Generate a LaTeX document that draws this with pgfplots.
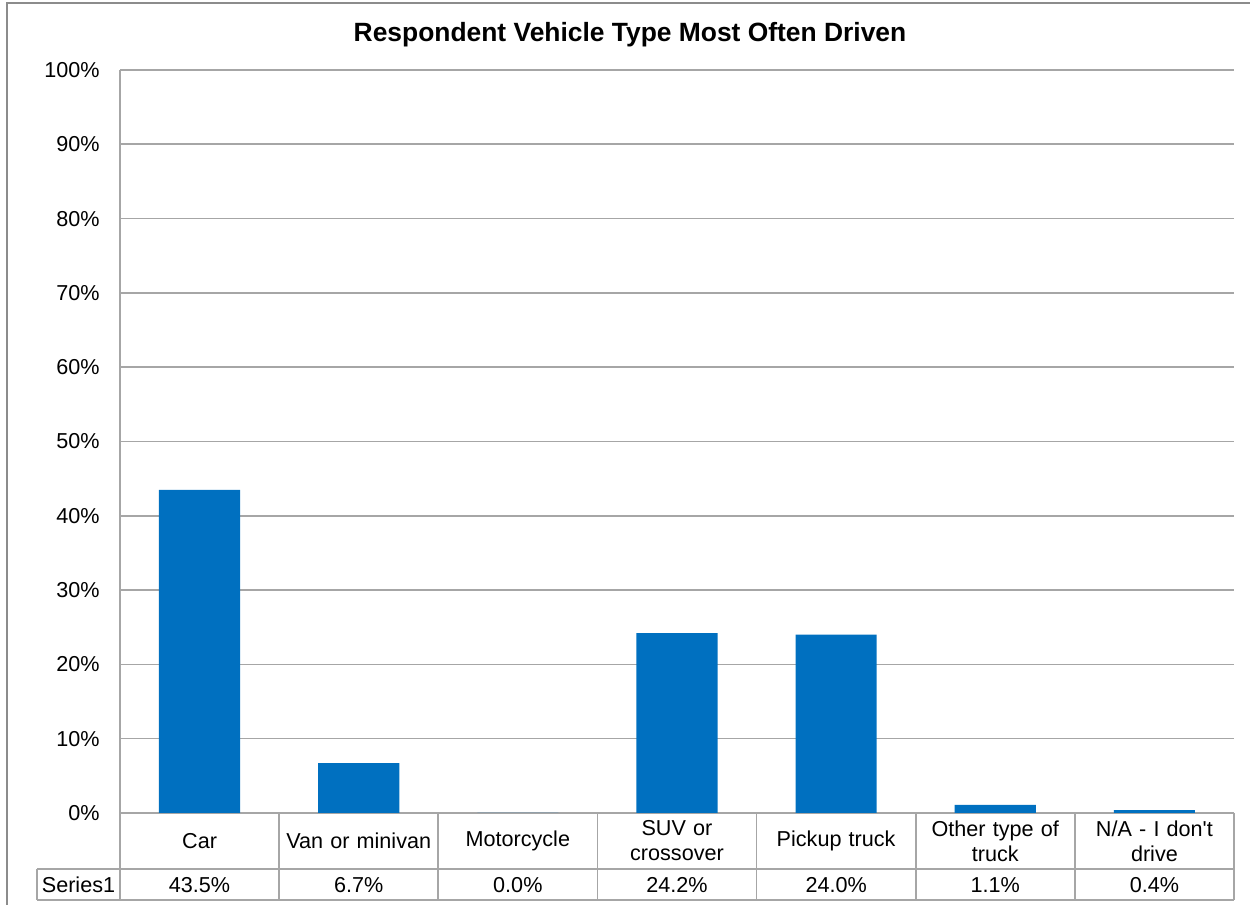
\documentclass[border=0pt]{standalone}
\usepackage{pgfplots}
\pgfplotsset{compat=1.18}
\usepackage{fontspec}
\setmainfont{Liberation Sans}
\definecolor{barblue}{HTML}{0070C0}
\definecolor{gridgray}{HTML}{A6A6A6}
\definecolor{framegray}{HTML}{8C8C8C}
\newcommand{\lbl}{\fontsize{10.8}{12.5}\selectfont}
\begin{document}
\begin{tikzpicture}
% page = 1250 x 905 px at 0.5pt per px, axis box origin at (120px, 813px)
\path[use as bounding box] (-60pt,-46pt) rectangle (565pt,406.5pt);
\draw[framegray, line width=0.8pt] (-56.5pt,-60pt) -- (-56.5pt,405pt) -- (580pt,405pt);
\begin{axis}[
    at={(0,0)}, anchor=south west,
    scale only axis, width=557pt, height=371.5pt,
    xmin=-0.5, xmax=6.5, ymin=0, ymax=100,
    ytick={0,10,...,100},
    yticklabel={\pgfmathprintnumber{\tick}\%},
    xtick={0,...,6},
    xticklabels={Car, Van or minivan, Motorcycle, SUV or\\crossover, Pickup truck, Other type of\\truck, N/A - I don\textquotesingle t\\drive},
    /pgf/number format/assume math mode=true,
    tick label style={font=\lbl},
    yticklabel style={anchor=east, inner sep=0pt, xshift=-10pt},
    xticklabel style={anchor=center, align=center, text width=76pt, inner sep=0pt, yshift=-14pt},
    major tick length=0pt,
    axis line style={draw=none},
    ymajorgrids, grid style={gridgray, line width=0.8pt},
    clip=false,
]
\addplot[ybar, bar width=0.51, fill=barblue, draw=none,
    nodes near coords={\pgfmathprintnumber[fixed,fixed zerofill,precision=1]{\pgfplotspointmeta}\%},
    visualization depends on=rawy \as \rawy,
    every node near coord/.append style={font=\lbl, anchor=center, yshift={-\rawy*3.715pt-36pt}},
] coordinates {
    (0,43.5) (1,6.7) (2,0.0) (3,24.2) (4,24.0) (5,1.1) (6,0.4)
};
\end{axis}
% data table grid
\begin{scope}[gridgray, line width=0.8pt]
\draw (0,371.5pt) -- (0,-43.5pt);
\draw (-41.5pt,-28pt) -- (557pt,-28pt);
\draw (-41.5pt,-43.5pt) -- (557pt,-43.5pt);
\draw (-41.5pt,-28pt) -- (-41.5pt,-43.5pt);
\foreach \i in {1,...,7} \draw ({\i*79.571pt},0) -- ({\i*79.571pt},-43.5pt);
\end{scope}
\node[font=\lbl, anchor=center] at (-20.75pt,-36pt) {Series1};
\node[font=\bfseries\fontsize{13.2}{14}\selectfont, anchor=center] at (255pt,389pt) {Respondent Vehicle Type Most Often Driven};
\end{tikzpicture}
\end{document}
